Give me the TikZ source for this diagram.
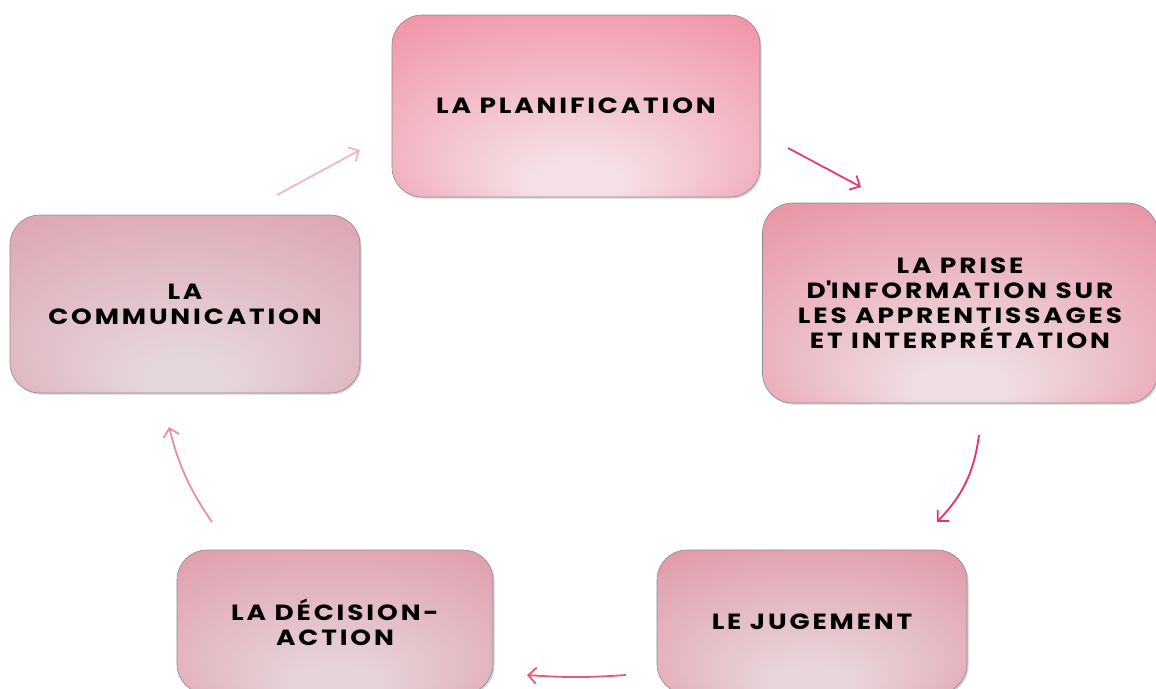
\documentclass[tikz,border=0pt]{standalone}
\usepackage{fontspec}
\setmainfont{Poppins}[FakeStretch=1.2,LetterSpace=13]
\usetikzlibrary{arrows.meta,shadows}

\definecolor{planout}{HTML}{F08BA1}
\definecolor{planin}{HTML}{F5E0E5}
\definecolor{priseout}{HTML}{E88C9E}
\definecolor{prisein}{HTML}{EEDDE1}
\definecolor{jugout}{HTML}{E093A4}
\definecolor{jugin}{HTML}{E8D6DA}
\definecolor{decout}{HTML}{DF98A9}
\definecolor{decin}{HTML}{E6D4D8}
\definecolor{commout}{HTML}{DDA0AF}
\definecolor{commin}{HTML}{E5D6DA}
\definecolor{arrowA}{HTML}{F3B5C2}
\definecolor{arrowB}{HTML}{E6397A}
\definecolor{arrowC}{HTML}{E8306A}
\definecolor{arrowD}{HTML}{E05A7E}
\definecolor{arrowE}{HTML}{EA8FA0}
\colorlet{boxin}{planin}
\colorlet{boxout}{planout}

\pgfdeclareradialshading[boxin,boxout]{boxglow}{\pgfpoint{0bp}{-24bp}}%
  {color(0bp)=(boxin); color(6bp)=(boxin); color(42bp)=(boxout); color(50bp)=(boxout)}

\tikzset{
  stage/.style={rectangle, rounded corners=30pt, draw=gray!90, line width=.6pt,
    shading=boxglow, align=center,
    drop shadow={shadow xshift=1.5pt, shadow yshift=-1.5pt, opacity=.35},
    font=\bfseries\fontsize{22}{25}\selectfont},
  glowin/.code={\colorlet{boxin}{#1}},
  glowout/.code={\colorlet{boxout}{#1}},
  flow/.style={line width=1.8pt, -{Straight Barb[length=8pt,width=16pt]}}
}

\begin{document}
\begin{tikzpicture}
  [x=1pt,y=-1pt]
  \useasboundingbox (0,0) rectangle (1156,688);
  \node[stage, glowin=planin, glowout=planout, minimum width=368pt, minimum height=182pt] (plan) at (576,106) {LA PLANIFICATION};
  \node[stage, glowin=prisein, glowout=priseout, minimum width=395pt, minimum height=200pt] (prise) at (960,303)
    {LA PRISE\\D\textquotesingle INFORMATION SUR\\LES APPRENTISSAGES\\ET INTERPRÉTATION};
  \node[stage, glowin=jugin, glowout=jugout, minimum width=310pt, minimum height=144pt] (jug) at (812,622) {LE JUGEMENT};
  \node[stage, glowin=decin, glowout=decout, minimum width=316pt, minimum height=144pt] (dec) at (335,622) {LA DÉCISION-\\ACTION};
  \node[stage, glowin=commin, glowout=commout, minimum width=350pt, minimum height=178pt] (comm) at (185,304) {LA\\COMMUNICATION};

  \coordinate (comm-out) at (277,195);
  \coordinate (plan-in)  at (360,150);
  \coordinate (plan-out) at (788,148);
  \coordinate (prise-in) at (861,187);
  \coordinate (prise-out) at (979,435);
  \coordinate (jug-in)   at (937,522);
  \coordinate (jug-out)  at (626,675);
  \coordinate (dec-in)   at (527,675);
  \coordinate (dec-out)  at (212,522);
  \coordinate (comm-in)  at (169,427);

  \foreach \from/\to/\col/\bend in {comm-out/plan-in/arrowA/0,plan-out/prise-in/arrowB/0,prise-out/jug-in/arrowC/18,jug-out/dec-in/arrowD/4,dec-out/comm-in/arrowE/10}
    \draw[flow,\col] (\from) to[bend left=\bend] (\to);
\end{tikzpicture}
\end{document}
